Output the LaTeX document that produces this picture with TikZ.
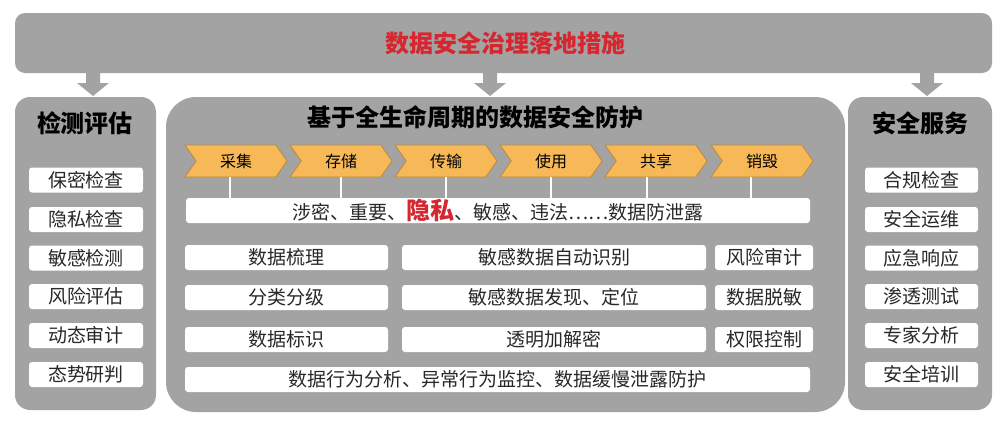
\documentclass[tikz,border=0pt]{standalone}
\usepackage{fontspec}
\setmainfont{Noto Sans CJK SC}
\usepackage{tikz}
\usetikzlibrary{shapes,positioning}
\definecolor{dsgray}{RGB}{163,163,163}
\definecolor{dsred}{RGB}{214,38,48}
\definecolor{dsorange}{RGB}{247,185,88}
\definecolor{dsbrown}{RGB}{190,135,60}
\definecolor{dstext}{RGB}{40,40,40}
\tikzset{
  panel/.style={fill=dsgray, rounded corners=15},
  item/.style={fill=white, rounded corners=3, inner sep=0, minimum height=25,
    text=dstext, font=\fontsize{19}{20}\selectfont},
  stage/.style={shape=signal, signal to=east, signal from=west, signal pointer angle=110,
    fill=dsorange, draw=dsbrown, line width=0.8, minimum width=102, minimum height=32,
    inner sep=0, font=\fontsize{16}{17}\selectfont},
  title/.style={font=\fontsize{24}{26}\selectfont\bfseries},
  link/.style={white, line width=2}
}

\begin{document}
\begin{tikzpicture}[x=1pt, y=-1pt]
\useasboundingbox (0,0) rectangle (1005,426);

% Top bar
\node[panel, rounded corners=10, minimum width=977, minimum height=60] (top) at (503.5,43) {};
\node[title, text=dsred] (toptitle) at (505,43) {数据安全治理落地措施};

% Block arrows
\fill[dsgray] (86,72) -- (100,72) -- (100,83) -- (109,83) -- (93,96) -- (77,83) -- (86,83) -- cycle;
\fill[dsgray] (483,72) -- (497,72) -- (497,83) -- (506,83) -- (490,96) -- (474,83) -- (483,83) -- cycle;
\fill[dsgray] (920,72) -- (934,72) -- (934,83) -- (943,83) -- (927,96) -- (911,83) -- (920,83) -- cycle;

% Panels
\node[panel, minimum width=141, minimum height=313] (leftpanel) at (85.5,253.5) {};
\node[panel, rounded corners=30, minimum width=679, minimum height=315] (midpanel) at (505.5,254.5) {};
\node[panel, minimum width=144, minimum height=313] (rightpanel) at (920,253.5) {};

% Panel titles
\node[title] (lefttitle) at (85,123) {检测评估};
\node[title] (midtitle) at (475,117) {基于全生命周期的数据安全防护};
\node[title] (righttitle) at (920,123) {安全服务};

% Left items
\node[item, minimum width=114] (l1) at (86,180) {保密检查};
\node[item, minimum width=114] (l2) at (86,219.5) {隐私检查};
\node[item, minimum width=114] (l3) at (86,258) {敏感检测};
\node[item, minimum width=114] (l4) at (86,296.5) {风险评估};
\node[item, minimum width=114] (l5) at (86,335.5) {动态审计};
\node[item, minimum width=114] (l6) at (86,374.5) {态势研判};

% Right items
\node[item, minimum width=113] (r1) at (921.5,180) {合规检查};
\node[item, minimum width=113] (r2) at (921.5,219.5) {安全运维};
\node[item, minimum width=113] (r3) at (921.5,258) {应急响应};
\node[item, minimum width=113] (r4) at (921.5,296.5) {渗透测试};
\node[item, minimum width=113] (r5) at (921.5,335.5) {专家分析};
\node[item, minimum width=113] (r6) at (921.5,374.5) {安全培训};

% Lifecycle stages
\node[stage] (s1) at (236,161) {采集};
\node[stage] (s2) at (341,161) {存储};
\node[stage] (s3) at (446,161) {传输};
\node[stage] (s4) at (551,161) {使用};
\node[stage] (s5) at (656,161) {共享};
\node[stage] (s6) at (762,161) {销毁};

% Sensitive data line
\node[item, minimum width=624] (sens) at (498,210.5)
  {涉密、重要、{\color{dsred}\fontsize{24}{24}\selectfont\bfseries 隐私}、敏感、违法……数据防泄露};

% Links
\draw[link] (s1.south) ++(-6,0) -- ++(0,21);
\draw[link] (s2.south) -- (s2.south |- sens.north);
\draw[link] (s3.south) -- (s3.south |- sens.north);
\draw[link] (s4.south) -- (s4.south |- sens.north);
\draw[link] (s5.south) ++(-9,0) -- ++(0,21);
\draw[link] (s6.south) ++(-11,0) -- ++(0,21);

% Measures
\node[item, minimum width=203] (m11) at (286.5,257.5) {数据梳理};
\node[item, minimum width=304] (m12) at (554,257.5) {敏感数据自动识别};
\node[item, minimum width=98] (m13) at (764,257.5) {风险审计};
\node[item, minimum width=203] (m21) at (286.5,297.5) {分类分级};
\node[item, minimum width=304] (m22) at (554,297.5) {敏感数据发现、定位};
\node[item, minimum width=98] (m23) at (764,297.5) {数据脱敏};
\node[item, minimum width=203] (m31) at (286.5,339.5) {数据标识};
\node[item, minimum width=304] (m32) at (554,339.5) {透明加解密};
\node[item, minimum width=98] (m33) at (764,339.5) {权限控制};
\node[item, minimum width=625] (m4) at (497.5,379.5) {数据行为分析、异常行为监控、数据缓慢泄露防护};
\end{tikzpicture}
\end{document}
